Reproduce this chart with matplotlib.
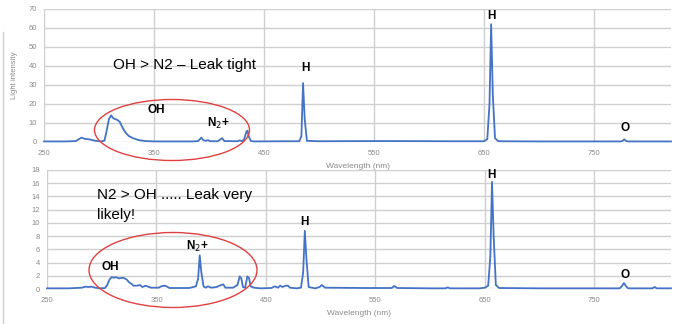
import matplotlib.pyplot as plt
from matplotlib.patches import Ellipse
from matplotlib.lines import Line2D

# top spectrum: OH > N2 (leak tight)
top_wl = [250, 270, 279, 282, 284, 287, 292, 297, 302, 305, 307, 309, 311, 313, 315, 317,
          319, 321, 324, 327, 331, 336, 342, 350, 385, 390, 392, 393, 395, 397, 399, 401,
          408, 410, 412, 414, 426, 428, 430, 432, 434, 435, 436, 438, 441, 470, 482, 484,
          485.5, 487, 489, 500, 560, 620, 650, 653, 655, 656.5, 658, 660, 663, 700, 774,
          776, 777.5, 779, 781, 800, 820]
top_int = [0.3, 0.3, 0.5, 1.6, 2.3, 1.7, 1.3, 0.6, 0.3, 0.8, 6, 12, 14, 12.5, 12, 11.5,
           10.5, 8, 5, 3.2, 2.0, 1.0, 0.5, 0.3, 0.3, 0.5, 1.6, 2.3, 0.9, 0.6, 1.0, 0.4,
           0.4, 1.2, 2.0, 0.5, 0.4, 0.9, 0.4, 1.5, 5.5, 6.0, 3.0, 0.6, 0.3, 0.4, 0.4, 3,
           31, 12, 0.6, 0.4, 0.5, 0.4, 0.4, 1.5, 20, 62, 25, 2, 0.4, 0.3, 0.3,
           0.6, 1.4, 0.6, 0.3, 0.3, 0.3]

# bottom spectrum: N2 > OH (leak very likely)
bot_wl = [250, 270, 282, 285, 288, 291, 294, 298, 303, 305, 307, 309, 311, 313, 316, 319,
          321, 323, 325, 327, 329, 332, 335, 337, 340, 345, 352, 355, 358, 362, 380, 386,
          388, 389.5, 391, 393, 395, 397, 400, 405, 409, 411, 413, 420, 424, 426, 427.5,
          429, 431, 433, 434.5, 436, 439, 445, 455, 458, 461, 463, 465, 468, 470, 472, 478,
          482, 484, 485.5, 487, 489, 495, 499, 501, 504, 540, 565, 567, 570, 600, 614, 616,
          618, 645, 650, 653, 655, 656.5, 658, 660, 663, 700, 773, 775, 777, 779, 781, 790,
          803, 805, 807, 820]
bot_int = [0.1, 0.1, 0.2, 0.35, 0.3, 0.35, 0.2, 0.1, 0.15, 0.6, 1.4, 1.8, 1.7, 1.8, 1.6,
           1.7, 1.6, 1.4, 1.0, 0.8, 0.5, 0.5, 0.6, 0.3, 0.5, 0.2, 0.2, 0.45, 0.5, 0.15, 0.15,
           0.4, 1.5, 5.1, 2.5, 0.4, 0.2, 0.4, 0.2, 0.3, 0.6, 0.7, 0.2, 0.2, 0.6, 1.9, 1.6,
           0.3, 0.2, 1.9, 1.7, 0.4, 0.2, 0.1, 0.15, 0.4, 0.2, 0.5, 0.3, 0.5, 0.5, 0.2, 0.1,
           0.2, 2.5, 8.8, 4.5, 0.3, 0.1, 0.3, 0.6, 0.2, 0.15, 0.15, 0.45, 0.15, 0.1, 0.1,
           0.25, 0.1, 0.1, 0.2, 0.5, 5, 16.2, 8, 0.6, 0.15, 0.1, 0.1, 0.4, 0.9, 0.4, 0.1,
           0.1, 0.1, 0.3, 0.1, 0.1]

x_ticks = [250, 350, 450, 550, 650, 750]
top_yticks = list(range(0, 80, 10))
bot_yticks = list(range(0, 20, 2))

line_color = '#4472C4'
grid_color = '#cfcfcf'
tick_color = '#8a8a8a'

plt.rcParams['font.family'] = ['Liberation Sans', 'DejaVu Sans']

W, H = 679, 324
fig = plt.figure(figsize=(W / 100, H / 100), dpi=100)


def frame(left, top, right, bottom):
    return [left / W, 1 - bottom / H, (right - left) / W, (bottom - top) / H]


def style(ax, yticks):
    ax.set_xlim(250, 820)
    ax.set_ylim(yticks[0], yticks[-1])
    ax.set_xticks(x_ticks)
    ax.set_yticks(yticks)
    ax.grid(True, color=grid_color, linewidth=1.0)
    ax.set_axisbelow(True)
    for s in ax.spines.values():
        s.set_visible(False)
    ax.tick_params(axis='x', length=0, labelsize=5.5, labelcolor=tick_color, pad=6)
    ax.tick_params(axis='y', length=0, labelsize=5.5, labelcolor=tick_color, pad=5)
    ax.set_xlabel('Wavelength (nm)', fontsize=6, color=tick_color, labelpad=4)


ax1 = fig.add_axes(frame(44, 9, 671, 142))
ax1.plot(top_wl, top_int, color=line_color, linewidth=1.3, clip_on=False)
style(ax1, top_yticks)
ax1.set_ylabel('Light intensity', fontsize=5.5, color=tick_color, labelpad=8)

ax1.text(313, 40.5, 'OH > N2 \u2013 Leak tight', fontsize=11, va='center', ha='left')
bold = dict(fontsize=8.5, fontweight='bold', ha='center', va='center')
ax1.text(488, 39, 'H', **bold)
ax1.text(352, 17, 'OH', **bold)
ax1.text(408, 10, r'N$_2$+', **bold)
ax1.text(657, 66.5, 'H', **bold)
ax1.text(778, 7.5, 'O', **bold)

ax2 = fig.add_axes(frame(47, 170, 671, 289))
ax2.plot(bot_wl, bot_int, color=line_color, linewidth=1.3, clip_on=False)
style(ax2, bot_yticks)

ax2.text(296, 14.2, 'N2 > OH ..... Leak very', fontsize=11, va='center', ha='left')
ax2.text(296, 11.2, 'likely!', fontsize=11, va='center', ha='left')
ax2.text(485, 10.2, 'H', **bold)
ax2.text(387, 6.5, r'N$_2$+', **bold)
ax2.text(308, 3.3, 'OH', **bold)
ax2.text(656, 17.2, 'H', **bold)
ax2.text(778, 2.1, 'O', **bold)

# red ellipses around the OH / N2+ regions
for cx, cy, w, h in [(172, 130, 155, 61), (173, 270, 168, 75)]:
    fig.add_artist(Ellipse((cx / W, 1 - cy / H), w / W, h / H, transform=fig.transFigure,
                           fill=False, edgecolor='#e04040', linewidth=1.0))

# left border of the original chart frame
fig.add_artist(Line2D([3 / W, 3 / W], [0, 1 - 32 / H], transform=fig.transFigure,
                      color='#d0d0d0', linewidth=1.0))

fig.savefig('out.png', dpi=100)
